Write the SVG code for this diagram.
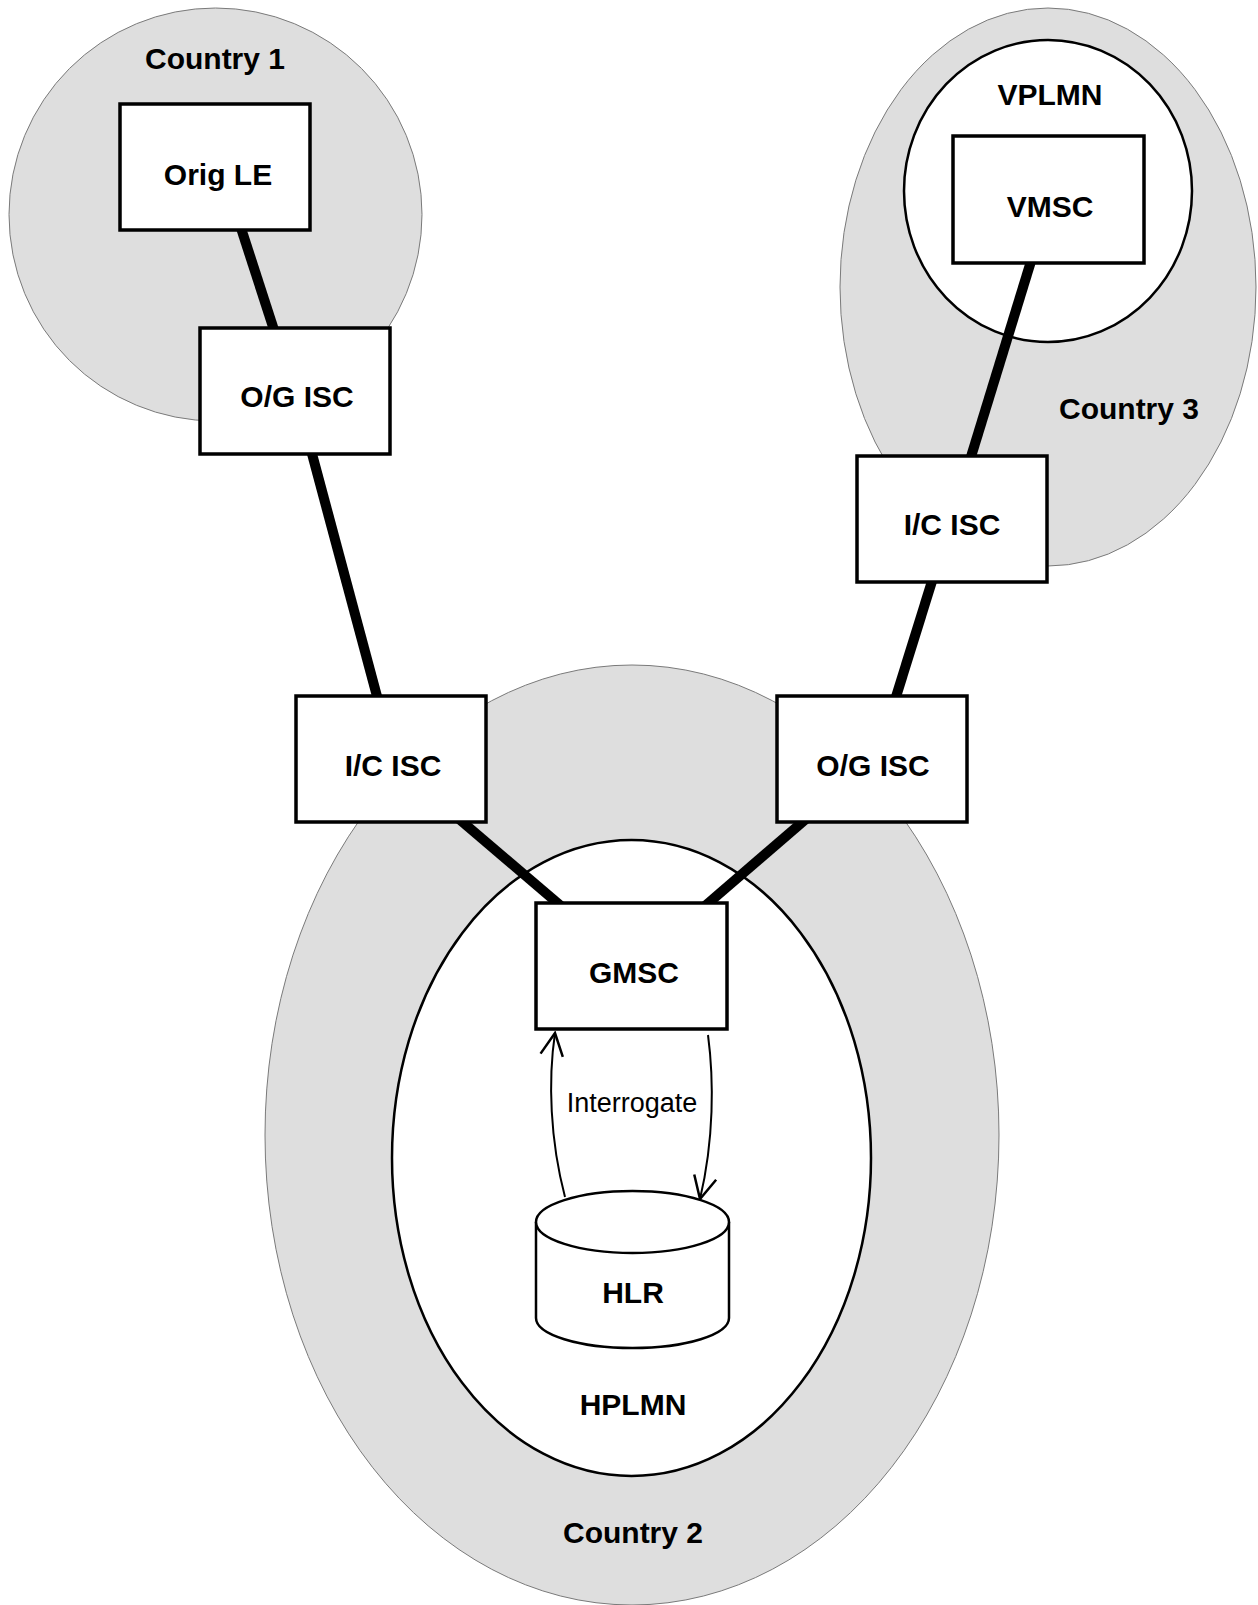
<svg xmlns="http://www.w3.org/2000/svg" width="1258" height="1605" viewBox="0 0 1258 1605">
<style>
.region{fill:#dedede;stroke:#7a7a7a;stroke-width:1}
.plmn{fill:#ffffff;stroke:#000;stroke-width:2.5}
.box{fill:#ffffff;stroke:#000;stroke-width:3.5}
.trunk{stroke:#000;stroke-width:10;fill:none}
.sig{stroke:#000;stroke-width:2;fill:none}
.lbl{font-family:"Liberation Sans",Arial,sans-serif;font-weight:bold;font-size:30px;text-anchor:middle;fill:#000}
.sm{font-family:"Liberation Sans",Arial,sans-serif;font-size:27px;text-anchor:middle;fill:#000}
</style>
<defs>
<marker id="open" markerUnits="userSpaceOnUse" markerWidth="30" markerHeight="30" viewBox="-22 -12 24 24" refX="0" refY="0" orient="auto">
<path d="M-18,-9 L0,0 L-18,9" fill="none" stroke="#000" stroke-width="2"/>
</marker>
</defs>
<g id="country1"><ellipse class="region" cx="215.5" cy="214.5" rx="206.5" ry="206.5"/><text class="lbl" x="215" y="69">Country 1</text></g>
<g id="country3"><ellipse class="region" cx="1048" cy="287" rx="208" ry="279"/><text class="lbl" x="1129" y="419">Country 3</text></g>
<g id="country2"><ellipse class="region" cx="632" cy="1135" rx="367" ry="470"/><text class="lbl" x="633" y="1543">Country 2</text></g>
<g id="vplmn"><ellipse class="plmn" cx="1048" cy="191" rx="144" ry="151"/><text class="lbl" x="1050" y="105">VPLMN</text></g>
<g id="hplmn"><ellipse class="plmn" cx="631.5" cy="1158" rx="239.5" ry="318"/><text class="lbl" x="633" y="1415">HPLMN</text></g>
<g id="connectors">
<line class="trunk" x1="240" y1="225" x2="275" y2="333"/>
<line class="trunk" x1="311" y1="450" x2="378" y2="700"/>
<line class="trunk" x1="1032" y1="258" x2="970" y2="460"/>
<line class="trunk" x1="933" y1="578" x2="895" y2="700"/>
<line class="trunk" x1="459" y1="819" x2="561" y2="906"/>
<line class="trunk" x1="806" y1="819" x2="705" y2="906"/>
<path class="sig" d="M565,1197 C550,1140 548,1080 555,1033" marker-end="url(#open)"/>
<path class="sig" d="M708,1035 C714,1080 714,1140 700,1199" marker-end="url(#open)"/>
<text class="sm" x="632" y="1112">Interrogate</text>
</g>
<g id="origle"><rect class="box" x="120" y="104" width="190" height="126"/><text class="lbl" x="218" y="185">Orig LE</text></g>
<g id="ogisc1"><rect class="box" x="200" y="328" width="190" height="126"/><text class="lbl" x="297" y="407">O/G ISC</text></g>
<g id="icisc2"><rect class="box" x="296" y="696" width="190" height="126"/><text class="lbl" x="393" y="776">I/C ISC</text></g>
<g id="ogisc2"><rect class="box" x="777" y="696" width="190" height="126"/><text class="lbl" x="873" y="776">O/G ISC</text></g>
<g id="icisc3"><rect class="box" x="857" y="456" width="190" height="126"/><text class="lbl" x="952" y="535">I/C ISC</text></g>
<g id="vmsc"><rect class="box" x="953" y="136" width="191" height="127"/><text class="lbl" x="1050" y="217">VMSC</text></g>
<g id="gmsc"><rect class="box" x="536" y="903" width="191" height="126"/><text class="lbl" x="634" y="983">GMSC</text></g>
<g id="hlr">
<path d="M536,1222 L536,1318 A96.5,30 0 0 0 729,1318 L729,1222" fill="#fff" stroke="#000" stroke-width="2.5"/>
<ellipse cx="632.5" cy="1222" rx="96.5" ry="31" fill="#fff" stroke="#000" stroke-width="2.5"/>
<text class="lbl" x="633" y="1303">HLR</text>
</g>
</svg>
